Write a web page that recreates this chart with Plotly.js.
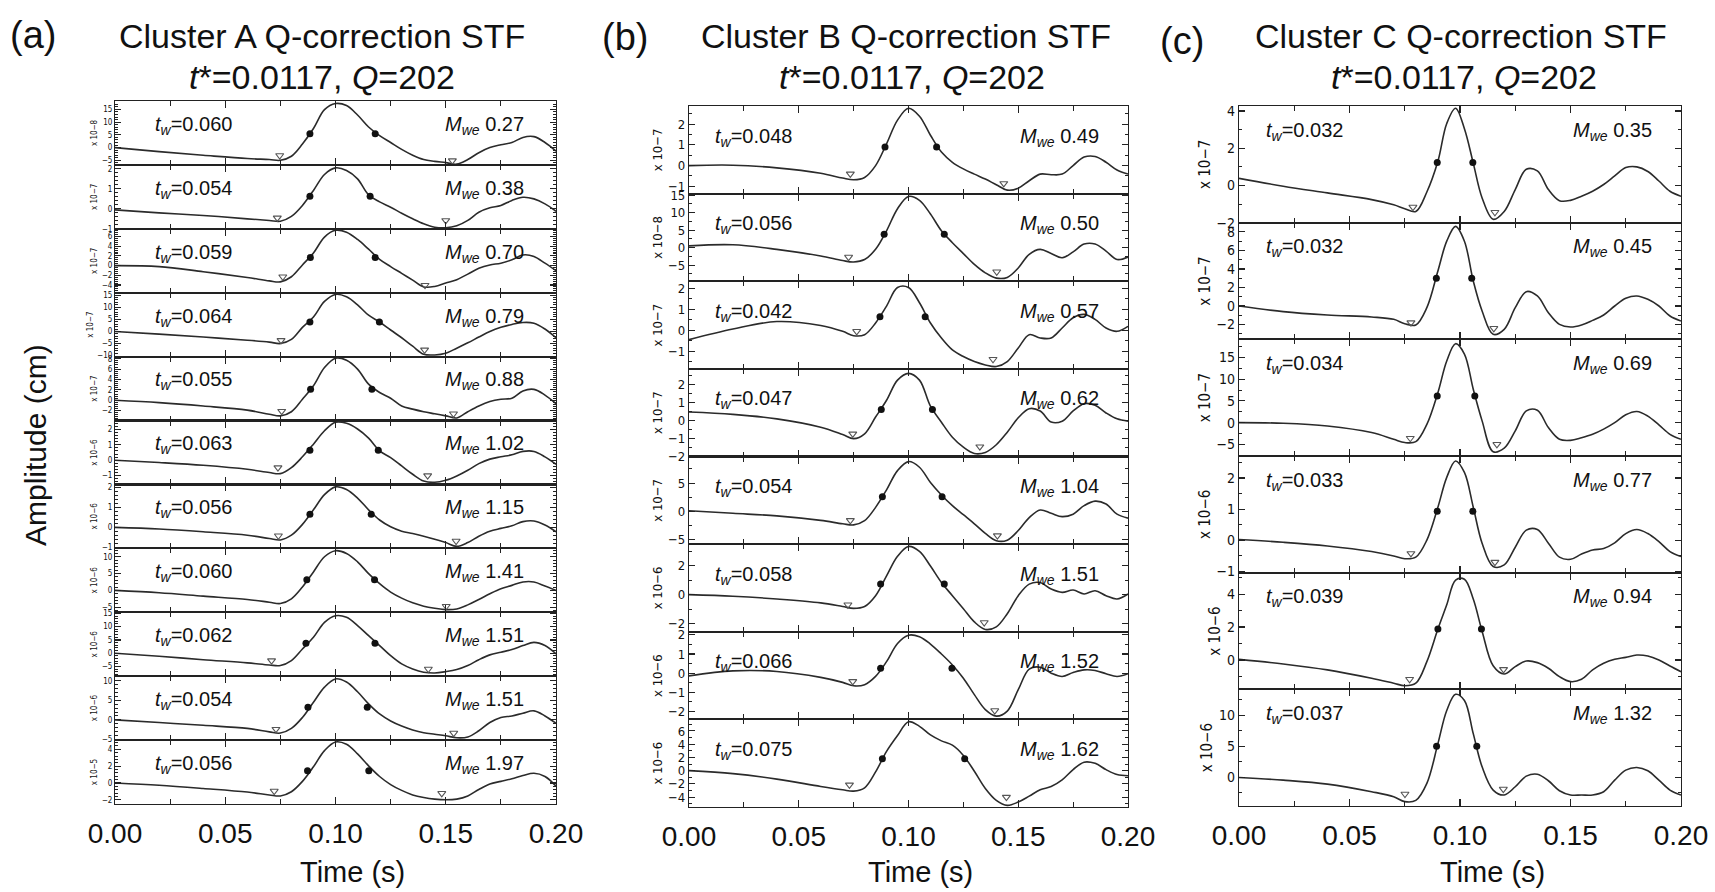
<!DOCTYPE html>
<html><head><meta charset="utf-8">
<script src="https://cdn.plot.ly/plotly-3.0.1.min.js"></script>
<style>html,body{margin:0;padding:0;background:#fff}#chart{width:1715px;height:892px}</style>
</head><body><div id="chart"></div>
<script>
// ---------- time grids (s) ----------
const T_AB = [0,0.02,0.04,0.06,0.07,0.075,0.08,0.085,0.09,0.095,0.1,0.105,0.11,0.115,0.12,0.125,0.13,0.135,0.14,0.145,0.15,0.155,0.16,0.165,0.17,0.175,0.18,0.185,0.19,0.195,0.2];
const T_C = [0,0.02,0.04,0.06,0.07,0.075,0.08,0.085,0.09,0.094,0.098,0.102,0.106,0.11,0.115,0.12,0.125,0.13,0.135,0.14,0.145,0.15,0.155,0.16,0.165,0.17,0.175,0.18,0.185,0.19,0.195,0.2];

// ---------- Cluster A waveforms (in units of the row's exponent) ----------
const a1 = [0,-1.6,-3.0,-4.3,-4.7,-5.0,-3.4,1.4,7.5,14.9,17.3,16.5,12.8,8.1,4.7,2,-0.7,-3,-4.7,-5.4,-5.9,-6.5,-4.7,-2,0,1.1,2,4,4.3,2,-1.4];
const a2 = [-0.05,-0.2,-0.33,-0.5,-0.58,-0.62,-0.38,0.17,0.92,1.72,2.05,1.92,1.5,0.7,0.35,0.08,-0.22,-0.5,-0.75,-0.92,-0.95,-0.85,-0.58,-0.17,0.05,0.17,0.42,0.58,0.5,0.25,-0.12];
const a3 = [0,-0.2,-1.26,-2.45,-3.15,-3.36,-2.3,0.14,2.6,5.9,7.3,6.9,5.4,3.4,1.3,-0.2,-1.6,-3.0,-4.4,-4.3,-3.6,-2.9,-1.75,-0.56,0.14,0.5,1.2,2.2,1.9,0.5,-1.05];
const a4 = [0,-1.1,-2.3,-3.6,-4.4,-5.0,-3.3,1.7,6,12.4,15.3,14.3,11,6.7,3.9,0.6,-2.6,-6.1,-9.4,-9.7,-9,-6.9,-4.7,-2.3,0,1.7,2.9,3.7,3.4,1,-2.6];
const a5 = [0,-0.45,-1.1,-1.9,-2.7,-3.0,-2.2,0.2,2.8,6.3,8.1,7.7,6,3.1,1.5,0.4,-1.1,-1.7,-2.2,-2.6,-3.0,-3.4,-2.2,-1.1,-0.25,0.2,0.4,1.8,2.1,1.0,-0.65];
const a6 = [0,-0.15,-0.33,-0.59,-0.8,-0.87,-0.48,0.22,1.04,1.91,2.46,2.39,2.02,1.43,0.61,0.17,-0.37,-0.91,-1.35,-1.43,-1.3,-1.02,-0.65,-0.22,0.07,0.22,0.35,0.57,0.57,0.22,-0.26];
const a7 = [0,-0.08,-0.22,-0.39,-0.56,-0.63,-0.39,0.15,0.88,1.64,2.03,1.9,1.47,0.88,0.37,0.03,-0.19,-0.31,-0.44,-0.59,-0.76,-0.95,-0.76,-0.44,-0.19,-0.05,0.08,0.29,0.32,0.12,-0.22];
const a8 = [0,-0.7,-1.7,-2.7,-3.5,-3.9,-2.5,1.0,5.5,10,11.8,11,8.5,5,2,-0.5,-2.3,-3.7,-4.7,-5.3,-5.7,-5.5,-4.3,-2.7,-1,0.5,1.5,2.5,2.5,1.3,0];
const a9 = [0,-1.1,-2.4,-3.6,-4.4,-4.6,-2.75,1.6,6,11.6,14.1,13.5,10.4,6.6,2.9,-0.9,-4,-5.9,-7.1,-7.4,-6.9,-6.1,-4.6,-2.4,-0.6,0.4,1.4,2.9,4.1,2.9,-0.25];
const a10 = [0,-0.7,-1.4,-2.2,-3.1,-3.4,-2.2,0.6,4.5,8.4,10.5,9.7,7.2,4.1,1.5,-0.3,-1.6,-2.6,-3.3,-3.7,-4.1,-4.6,-4.4,-2.8,-0.7,0.6,1,1.7,2.3,1,-0.9];
const a11 = [0,-0.27,-0.65,-1.08,-1.42,-1.54,-1.04,0.19,1.92,3.85,4.88,4.6,3.46,2.04,0.77,-0.19,-0.88,-1.42,-1.73,-1.92,-2.0,-1.92,-1.54,-0.77,-0.12,0.19,0.5,0.88,1.15,0.77,-0.38];
const aTw  = ['0.060','0.054','0.059','0.064','0.055','0.063','0.056','0.060','0.062','0.054','0.056'];
const aMwe = ['0.27','0.38','0.70','0.79','0.88','1.02','1.15','1.41','1.51','1.51','1.97'];
const aExp = ['8','7','7','7','7','6','6','6','6','6','5'];
const aRange = [[-6.8,18.3],[-1.0,2.2],[-5.6,7.6],[-10.4,16],[-3.9,8.4],[-1.57,2.57],[-1.05,2.15],[-6.5,12.5],[-8.6,15.4],[-5.2,11.2],[-2.5,5.1]];
const aDtick = [5,1,2,5,2,1,1,5,5,5,2];
const aDotX = [[0.0884,0.118],[0.0884,0.1157],[0.0886,0.118],[0.0884,0.1199],[0.0887,0.1165],[0.0884,0.1194],[0.0884,0.1162],[0.087,0.1177],[0.0866,0.1179],[0.0875,0.1144],[0.0873,0.1151]];
const aDotY = [5.4,0.63,1.7,3.9,2.1,0.65,0.66,3.2,3.8,3.2,1.46];
const aTriX = [[0.0747,0.153],[0.0736,0.15],[0.0761,0.1406],[0.0753,0.1404],[0.0756,0.1535],[0.0739,0.1418],[0.0741,0.1547],[0.1502],[0.071,0.1421],[0.073,0.1536],[0.0722,0.1482]];
const aTriY = [[-3.1,-5.1],[-0.45,-0.58],[-2.3,-4.05],[-3.7,-7.6],[-2.1,-2.6],[-0.48,-1.0],[-0.42,-0.68],[-4.7],[-2.75,-5.9],[-2.4,-3.4],[-0.96,-1.23]];

// ---------- Cluster B ----------
const b1 = [0,0.02,-0.11,-0.37,-0.6,-0.68,-0.57,0,1.05,2.19,2.76,2.38,1.46,0.65,0.16,-0.16,-0.41,-0.65,-0.92,-1.18,-1.09,-0.73,-0.41,-0.44,-0.41,0,0.41,0.44,0.16,-0.21,-0.41];
const b2 = [0.5,0.8,-0.5,-2.4,-3.7,-4.1,-3.4,-0.5,4.8,11.1,14.6,13.5,9.6,4.8,1.4,-1.7,-4.8,-7.2,-8.7,-8.5,-5.8,-1.9,-0.5,-1.7,-2.9,-1.2,1,1,-1,-3.4,-2.7];
const b3 = [-0.45,0.06,0.42,0.23,-0.05,-0.26,-0.21,0.35,1.16,2.05,2.05,1.32,0.35,-0.37,-0.94,-1.26,-1.5,-1.66,-1.74,-1.5,-0.85,-0.21,-0.37,-0.37,0.11,0.6,0.76,0.52,0.11,-0.05,0.19];
const b4 = [0.47,0.34,0.09,-0.38,-0.79,-1.02,-0.75,0.19,1.13,2.26,2.64,2.26,0.8,-0.1,-0.94,-1.5,-1.85,-1.79,-1.36,-0.66,0.15,0.66,0.53,-0.09,-0.04,0.53,0.94,0.85,0.42,0.09,-0.04];
const b5 = [0.1,-0.35,-0.8,-1.6,-2.2,-2.4,-1.65,0.7,3.8,7.2,8.8,7.8,5.1,2.9,1.0,-0.6,-2.2,-3.9,-5.2,-5.1,-3.4,-1.1,0.24,-0.35,-0.94,-0.5,1.0,1.8,1.3,-0.5,-1.2];
const b6 = [0,-0.11,-0.3,-0.57,-0.82,-0.95,-0.82,-0.07,1.3,2.66,3.34,3.0,1.98,0.84,-0.07,-0.98,-1.89,-2.41,-2.23,-1.32,-0.07,0.73,0.84,0.39,0.16,0.32,0.05,0.27,-0.07,-0.3,0.05];
const b7 = [-0.14,0.12,0.09,-0.22,-0.48,-0.66,-0.6,-0.17,0.6,1.55,1.98,1.9,1.52,1.0,0.43,-0.26,-1.12,-1.9,-2.24,-1.98,-0.86,0.21,0.31,0,-0.17,0.03,0.17,0.14,-0.03,-0.17,-0.03];
const b8 = [0,-0.46,-1.28,-2.4,-2.9,-3.1,-2.6,-0.2,2.9,5.3,7.4,6.7,5.4,4.5,3.85,2.3,-0.1,-2.7,-4.5,-5.25,-4.75,-3.85,-2.9,-2.4,-1.4,0.15,1.28,1.1,0.15,-0.6,-0.77];
const bTw  = ['0.048','0.056','0.042','0.047','0.054','0.058','0.066','0.075'];
const bMwe = ['0.49','0.50','0.57','0.62','1.04','1.51','1.52','1.62'];
const bExp = ['7','8','7','7','7','6','6','6'];
const bRange = [[-1.35,2.87],[-9.6,15.4],[-1.85,2.35],[-2.02,2.89],[-5.8,9.7],[-2.57,3.5],[-2.41,2.16],[-5.5,7.75]];
const bDtick = [1,5,1,1,5,2,1,2];
const bDotX = [[0.0893,0.1128],[0.0889,0.1163],[0.087,0.1076],[0.0876,0.1109],[0.0881,0.1153],[0.0873,0.1163],[0.0873,0.1198],[0.0881,0.1256]];
const bDotY = [0.89,3.8,0.65,0.62,2.6,0.73,0.26,1.8];
const bTriX = [[0.0735,0.1434],[0.0727,0.1402],[0.0764,0.1385],[0.0746,0.1325],[0.0735,0.1405],[0.0724,0.1345],[0.0746,0.1393],[0.0731,0.1446]];
const bTriY = [[-0.4,-0.86],[-2.7,-6.9],[-0.05,-1.39],[-0.75,-1.47],[-1.6,-4.3],[-0.7,-1.93],[-0.43,-1.95],[-2.15,-4.0]];

// ---------- Cluster C ----------
const c1 = [0.38,-0.04,-0.4,-0.76,-1.04,-1.25,-1.4,-0.35,1.3,3.33,4.15,3.05,1.2,-0.67,-1.82,-1.4,-0.22,0.87,0.78,-0.22,-0.82,-0.8,-0.58,-0.31,0.05,0.51,0.96,1.0,0.75,0.24,-0.31,-0.58];
const c2 = [0,-0.61,-0.97,-1.19,-1.44,-1.91,-2.05,-0.18,3.78,7.0,8.6,7.0,2.7,-0.54,-3.06,-2.52,-0.18,1.55,1.08,-0.72,-1.98,-2.27,-2.05,-1.55,-0.97,0,0.83,1.08,0.72,0,-1.08,-1.62];
const c3 = [0,-0.15,-0.77,-2.3,-3.85,-4.6,-4.4,-0.4,6.9,14.2,18.2,15.8,7.7,0.4,-6.7,-5.9,-1.9,2.7,2.85,-1.15,-3.85,-4.1,-3.5,-2.7,-1.5,0,1.8,2.55,1.5,-0.54,-2.7,-3.85];
const c4 = [0.02,-0.07,-0.19,-0.37,-0.51,-0.6,-0.55,0,1.06,2.02,2.55,2.18,1.06,-0.1,-0.85,-0.8,-0.23,0.32,0.34,-0.1,-0.55,-0.62,-0.45,-0.32,-0.27,-0.09,0.21,0.34,0.21,-0.05,-0.37,-0.53];
const c5 = [0.04,-0.24,-0.6,-1.11,-1.41,-1.56,-1.41,-0.1,1.88,3.35,4.85,4.9,3.7,1.75,-0.35,-0.85,-0.4,-0.06,-0.16,-0.5,-1.01,-1.31,-1.17,-0.6,-0.2,0.04,0.16,0.3,0.24,0,-0.36,-0.71];
const c6 = [0,-0.43,-1.07,-2.3,-3.1,-3.9,-3.7,-0.96,5.45,10.8,13.4,12.4,7.06,1.71,-2.03,-2.83,-1.5,0.21,0.53,-0.53,-2.14,-2.83,-2.83,-2.83,-2.3,-0.43,1.18,1.6,1.07,-0.43,-2.03,-2.83];
const cTw  = ['0.032','0.032','0.034','0.033','0.039','0.037'];
const cMwe = ['0.35','0.45','0.69','0.77','0.94','1.32'];
const cExp = ['7','7','7','6','6','6'];
const cRange = [[-2.0,4.27],[-3.6,9.0],[-7.7,19.2],[-1.05,2.71],[-1.78,5.3],[-4.6,14.2]];
const cDtick = [2,2,5,1,2,5];
const cDotX = [[0.0897,0.1058],[0.0893,0.1053],[0.0897,0.1067],[0.0897,0.1058],[0.09,0.1097],[0.0894,0.1076]];
const cDotY = [1.24,2.99,6.15,0.93,1.88,5.03];
const cTriX = [[0.0787,0.1158],[0.0778,0.1153],[0.0775,0.1167],[0.0778,0.1158],[0.0772,0.1197],[0.0751,0.1196]];
const cTriY = [[-1.16,-1.44],[-1.8,-2.41],[-3.6,-5],[-0.43,-0.71],[-1.17,-0.57],[-2.67,-1.87]];

const panelTitles = ['Cluster A Q-correction STF','Cluster B Q-correction STF','Cluster C Q-correction STF'];
const panelLetters = ['(a)','(b)','(c)'];
const subTitle = '<i>t</i>*=0.0117, <i>Q</i>=202';
const xTickVals = [0,0.05,0.1,0.15,0.2];

// ---------- layout / styling ----------
const W = 1715, H = 892;
const FONT = 'Liberation Sans, Arial, Helvetica, sans-serif';
const NARROW = 'DejaVu Sans Condensed, Liberation Sans Narrow, Liberation Sans, Arial, sans-serif';
const INK = '#222';

const panels = [
  {rows:[a1,a2,a3,a4,a5,a6,a7,a8,a9,a10,a11], t:T_AB, tw:aTw, mwe:aMwe, exp:aExp, range:aRange, dtick:aDtick,
   dotX:aDotX, dotY:aDotY, triX:aTriX, triY:aTriY, px:[115,556], py:[101,804], tickSize:8, expSize:8, minorDiv:5,
   twX:0.0172, mweX:0.1865, labY:0.62, titleX:322, subX:322, letterX:33, timeX:352, letterY:35},
  {rows:[b1,b2,b3,b4,b5,b6,b7,b8], t:T_AB, tw:bTw, mwe:bMwe, exp:bExp, range:bRange, dtick:bDtick,
   dotX:bDotX, dotY:bDotY, triX:bTriX, triY:bTriY, px:[689,1128], py:[106,807], tickSize:13, expSize:13, minorDiv:2,
   twX:0.0109, mweX:0.1875, labY:0.645, titleX:906, subX:912, letterX:625, timeX:920, letterY:37},
  {rows:[c1,c2,c3,c4,c5,c6], t:T_C, tw:cTw, mwe:cMwe, exp:cExp, range:cRange, dtick:cDtick,
   dotX:cDotX, dotY:cDotY, triX:cTriX, triY:cTriY, px:[1239,1681], py:[106,806], tickSize:14, expSize:15, minorDiv:2,
   twX:0.0113, mweX:0.188, labY:0.785, titleX:1461, subX:1464, letterX:1182, timeX:1492, letterY:41}
];

const traces = [];
const annotations = [];
const layout = {
  width: W, height: H, margin:{l:0,r:0,t:0,b:0,pad:0},
  paper_bgcolor:'#fff', plot_bgcolor:'#fff', showlegend:false,
  font:{family:FONT, color:'#111'}
};

let n = 0;
panels.forEach((p, pi) => {
  const nr = p.rows.length;
  const rh = (p.py[1]-p.py[0])/nr;
  p.rows.forEach((ys, i) => {
    n++;
    const xa = n===1 ? 'x' : 'x'+n, ya = n===1 ? 'y' : 'y'+n;
    const xk = n===1 ? 'xaxis' : 'xaxis'+n, yk = n===1 ? 'yaxis' : 'yaxis'+n;
    const top = p.py[0] + i*rh, bot = top + rh;
    const isBottom = (i === nr-1);
    layout[xk] = {
      domain:[p.px[0]/W, p.px[1]/W], anchor:ya, range:[0,0.2],
      showgrid:false, zeroline:false, showline:true, linecolor:INK, linewidth:1.1, mirror:'allticks',
      ticks:'inside', ticklen:7, tickwidth:1.2, tickcolor:INK,
      tickmode:'array', tickvals:xTickVals, tickformat:'.2f',
      minor:{tickmode:'linear', tick0:0, dtick:0.025, ticks:'inside', ticklen:5, tickwidth:1.1, tickcolor:INK},
      showticklabels:isBottom, tickfont:{family:FONT, size:28, color:'#111'}, ticklabelstandoff:4,
      fixedrange:true
    };
    layout[yk] = {
      domain:[1-bot/H, 1-top/H], anchor:xa, range:p.range[i],
      showgrid:false, zeroline:false, showline:true, linecolor:INK, linewidth:1.1, mirror:'allticks',
      ticks:'inside', ticklen:6, tickwidth:1.1, tickcolor:INK,
      tick0:0, dtick:p.dtick[i],
      minor:{tick0:0, dtick:p.dtick[i]/p.minorDiv, ticks:'inside', ticklen:3, tickwidth:1, tickcolor:INK},
      tickfont:{family:NARROW, size:p.tickSize, color:'#111'},
      title:{text:'x 10\u2212'+p.exp[i], font:{family:NARROW, size:p.expSize, color:'#111'}, standoff:2},
      fixedrange:true
    };
    traces.push({x:p.t, y:ys, xaxis:xa, yaxis:ya, type:'scatter', mode:'lines',
      line:{shape:'spline', smoothing:1, color:'#2b2b2b', width:1.6}, hoverinfo:'skip'});
    traces.push({x:p.dotX[i], y:p.dotX[i].map(() => p.dotY[i]), xaxis:xa, yaxis:ya, type:'scatter', mode:'markers',
      marker:{symbol:'circle', size:7, color:'#111'}, hoverinfo:'skip'});
    traces.push({x:p.triX[i], y:p.triY[i], xaxis:xa, yaxis:ya, type:'scatter', mode:'markers',
      marker:{symbol:'triangle-down-open', size:7, color:'#555', line:{width:1.1, color:'#555'}}, hoverinfo:'skip'});
    annotations.push({xref:xa, yref:ya+' domain', x:p.twX, y:p.labY, xanchor:'left', yanchor:'middle', showarrow:false,
      text:'<i>t</i><sub><i>w</i></sub>='+p.tw[i], font:{family:FONT, size:20, color:'#111'}});
    annotations.push({xref:xa, yref:ya+' domain', x:p.mweX, y:p.labY, xanchor:'right', yanchor:'middle', showarrow:false,
      text:'<i>M</i><sub><i>we</i></sub> '+p.mwe[i], font:{family:FONT, size:20, color:'#111'}});
  });
  annotations.push({xref:'paper', yref:'paper', x:p.letterX/W, y:1-p.letterY/H, xanchor:'center', yanchor:'middle',
    showarrow:false, text:panelLetters[pi], font:{family:FONT, size:38, color:'#111'}});
  annotations.push({xref:'paper', yref:'paper', x:p.titleX/W, y:1-36/H, xanchor:'center', yanchor:'middle',
    showarrow:false, text:panelTitles[pi], font:{family:FONT, size:34, color:'#111'}});
  annotations.push({xref:'paper', yref:'paper', x:p.subX/W, y:1-77/H, xanchor:'center', yanchor:'middle',
    showarrow:false, text:subTitle, font:{family:FONT, size:34, color:'#111'}});
  annotations.push({xref:'paper', yref:'paper', x:p.timeX/W, y:1-872/H, xanchor:'center', yanchor:'middle',
    showarrow:false, text:'Time (s)', font:{family:FONT, size:29, color:'#111'}});
});
annotations.push({xref:'paper', yref:'paper', x:36/W, y:1-445/H, xanchor:'center', yanchor:'middle', textangle:-90,
  showarrow:false, text:'Amplitude (cm)', font:{family:FONT, size:30, color:'#111'}});
layout.annotations = annotations;

Plotly.newPlot('chart', traces, layout, {staticPlot:true, displayModeBar:false});
</script>
</body></html>
